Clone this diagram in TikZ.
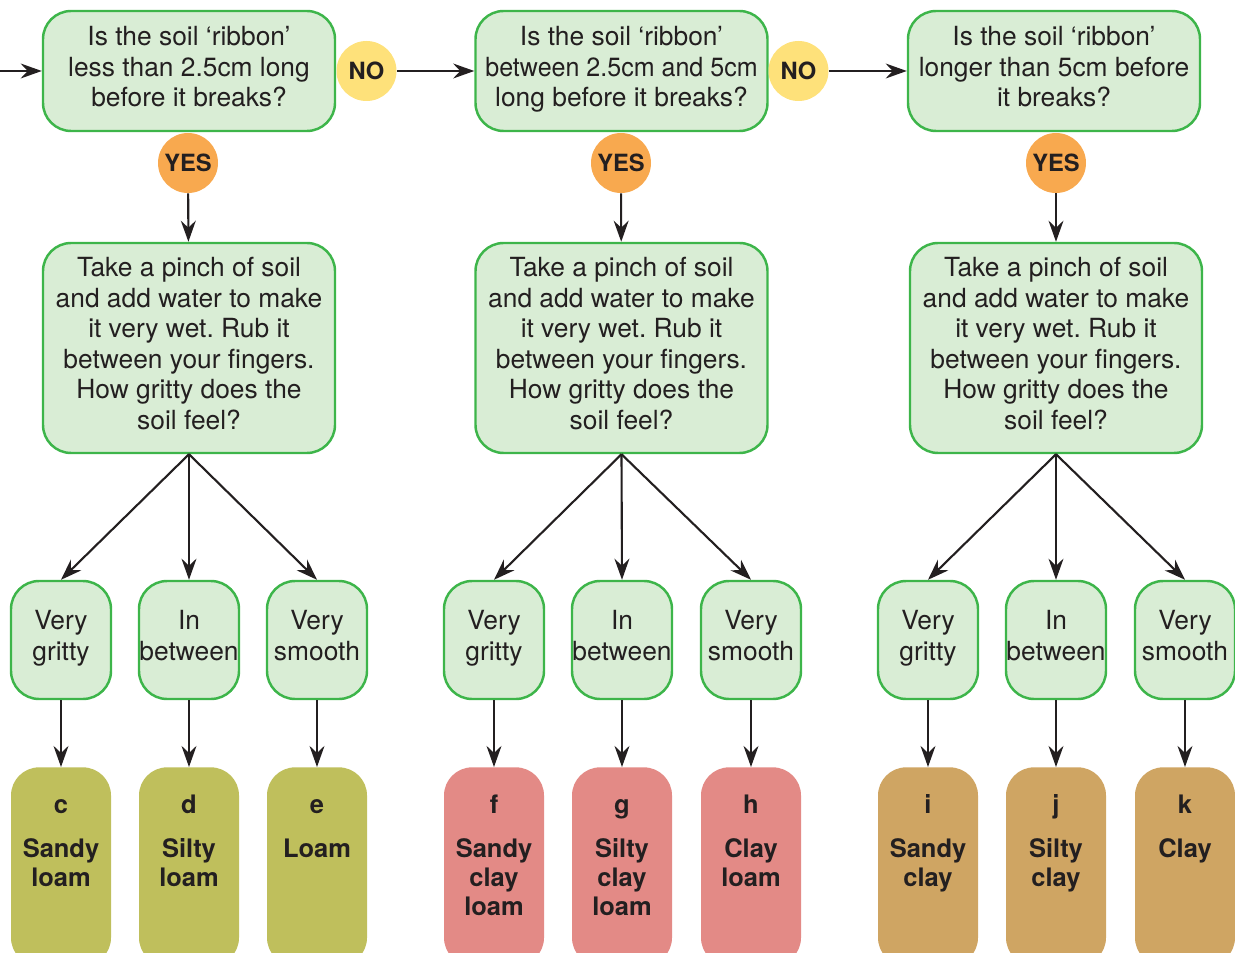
\documentclass[tikz,border=0pt]{standalone}
\usepackage{fontspec}
\setmainfont{TeX Gyre Heros}
\usepackage{xcolor}
\usepackage{graphicx}
\usepackage{tikz}
\usetikzlibrary{arrows.meta, positioning}
\frenchspacing

\definecolor{boxgreen}{HTML}{D9EDD5}
\definecolor{edgegreen}{HTML}{3DB54A}
\definecolor{noyellow}{HTML}{FEE17A}
\definecolor{yesorange}{HTML}{F8A94F}
\definecolor{loamolive}{HTML}{BFBF5C}
\definecolor{claypink}{HTML}{E38A86}
\definecolor{claytan}{HTML}{CFA563}
\definecolor{ink}{HTML}{231F20}

\newcommand{\soil}[2]{\parbox[t][2.95cm][t]{2cm}{\centering\strut #1\\[8.5pt]#2}}

\begin{document}
\begin{tikzpicture}[
  text=ink,
  font=\fontsize{15}{17.4}\selectfont,
  question/.style={draw=edgegreen, line width=1.4pt, fill=boxgreen, rounded corners=16pt,
    align=center, minimum width=5.84cm, minimum height=2.4cm, inner sep=0pt,
    execute at begin node=\strut, execute at end node=\strut},
  pinch/.style={question, minimum height=4.2cm},
  feel/.style={question, minimum width=2cm, minimum height=2.36cm},
  answer/.style={circle, minimum size=1.2cm, inner sep=0pt, font=\bfseries\fontsize{13.5}{16}\selectfont},
  result/.style={rounded corners=16pt, anchor=north, inner xsep=0pt, inner ysep=14.5pt,
    font=\bfseries\fontsize{14.5}{16.5}\selectfont},
  arrow/.style={draw=ink, line width=1.2pt, -{Stealth[length=12pt, width=8.5pt, inset=4pt]}}
]
\useasboundingbox (0, 0) rectangle (24.7, -19.06);
\clip (0, 0) rectangle (24.7, -19.06);

% ribbon questions
\coordinate (start) at (0, -1.42);
\node[question] at (3.78, -1.42) (q1) {Is the soil ‘ribbon’\\less than 2.5cm long\\before it breaks?};
\node[question] at (12.43, -1.42) (q2) {Is the soil ‘ribbon’\\\scalebox{0.95}[1]{between 2.5cm and 5cm}\\long before it breaks?};
\node[question] at (21.08, -1.42) (q3) {Is the soil ‘ribbon’\\longer than 5cm before\\it breaks?};
\node[answer, fill=noyellow] at (7.33, -1.42) (no1) {NO};
\node[answer, fill=noyellow] at (15.97, -1.42) (no2) {NO};
\node[answer, fill=yesorange] at (3.76, -3.26) (yes1) {YES};
\node[answer, fill=yesorange] at (12.42, -3.26) (yes2) {YES};
\node[answer, fill=yesorange] at (21.12, -3.26) (yes3) {YES};

% rub test
\node[pinch] at (3.78, -6.96) (p1) {Take a pinch of soil\\and add water to make\\it very wet. Rub it\\between your fingers.\\How gritty does the\\soil feel?};
\node[pinch] at (12.43, -6.96) (p2) {Take a pinch of soil\\and add water to make\\it very wet. Rub it\\between your fingers.\\How gritty does the\\soil feel?};
\node[pinch] at (21.12, -6.96) (p3) {Take a pinch of soil\\and add water to make\\it very wet. Rub it\\between your fingers.\\How gritty does the\\soil feel?};

\node[feel] at (1.22, -12.8) (gritty1) {Very\\gritty};
\node[feel] at (3.78, -12.8) (between1) {In\\between};
\node[feel] at (6.34, -12.8) (smooth1) {Very\\smooth};
\node[feel] at (9.88, -12.8) (gritty2) {Very\\gritty};
\node[feel] at (12.44, -12.8) (between2) {In\\between};
\node[feel] at (15.02, -12.8) (smooth2) {Very\\smooth};
\node[feel] at (18.56, -12.8) (gritty3) {Very\\gritty};
\node[feel] at (21.12, -12.8) (between3) {In\\between};
\node[feel] at (23.7, -12.8) (smooth3) {Very\\smooth};

% soil types
\node[result, fill=loamolive] at (1.22, -15.34) (c) {\soil{c}{Sandy\\loam}};
\node[result, fill=loamolive] at (3.78, -15.34) (d) {\soil{d}{Silty\\loam}};
\node[result, fill=loamolive] at (6.34, -15.34) (e) {\soil{e}{Loam}};
\node[result, fill=claypink] at (9.88, -15.34) (f) {\soil{f}{Sandy\\clay\\loam}};
\node[result, fill=claypink] at (12.44, -15.34) (g) {\soil{g}{Silty\\clay\\loam}};
\node[result, fill=claypink] at (15.02, -15.34) (h) {\soil{h}{Clay\\loam}};
\node[result, fill=claytan] at (18.56, -15.34) (i) {\soil{i}{Sandy\\clay}};
\node[result, fill=claytan] at (21.12, -15.34) (j) {\soil{j}{Silty\\clay}};
\node[result, fill=claytan] at (23.7, -15.34) (k) {\soil{k}{Clay}};

\draw[arrow] (start) -- (start -| q1.west);
\draw[arrow] (no1) -- (no1 -| q2.west);
\draw[arrow] (no2) -- (no2 -| q3.west);
\draw[arrow] (yes1) -- (p1);
\draw[arrow] (yes2) -- (p2);
\draw[arrow] (yes3) -- (p3);

\draw[arrow] (p1.south) -- (gritty1.north);
\draw[arrow] (p1.south) -- (between1.north);
\draw[arrow] (p1.south) -- (smooth1.north);
\draw[arrow] (p2.south) -- (gritty2.north);
\draw[arrow] (p2.south) -- (between2.north);
\draw[arrow] (p2.south) -- (smooth2.north);
\draw[arrow] (p3.south) -- (gritty3.north);
\draw[arrow] (p3.south) -- (between3.north);
\draw[arrow] (p3.south) -- (smooth3.north);

\draw[arrow] (gritty1) -- (c);
\draw[arrow] (between1) -- (d);
\draw[arrow] (smooth1) -- (e);
\draw[arrow] (gritty2) -- (f);
\draw[arrow] (between2) -- (g);
\draw[arrow] (smooth2) -- (h);
\draw[arrow] (gritty3) -- (i);
\draw[arrow] (between3) -- (j);
\draw[arrow] (smooth3) -- (k);
\end{tikzpicture}
\end{document}
